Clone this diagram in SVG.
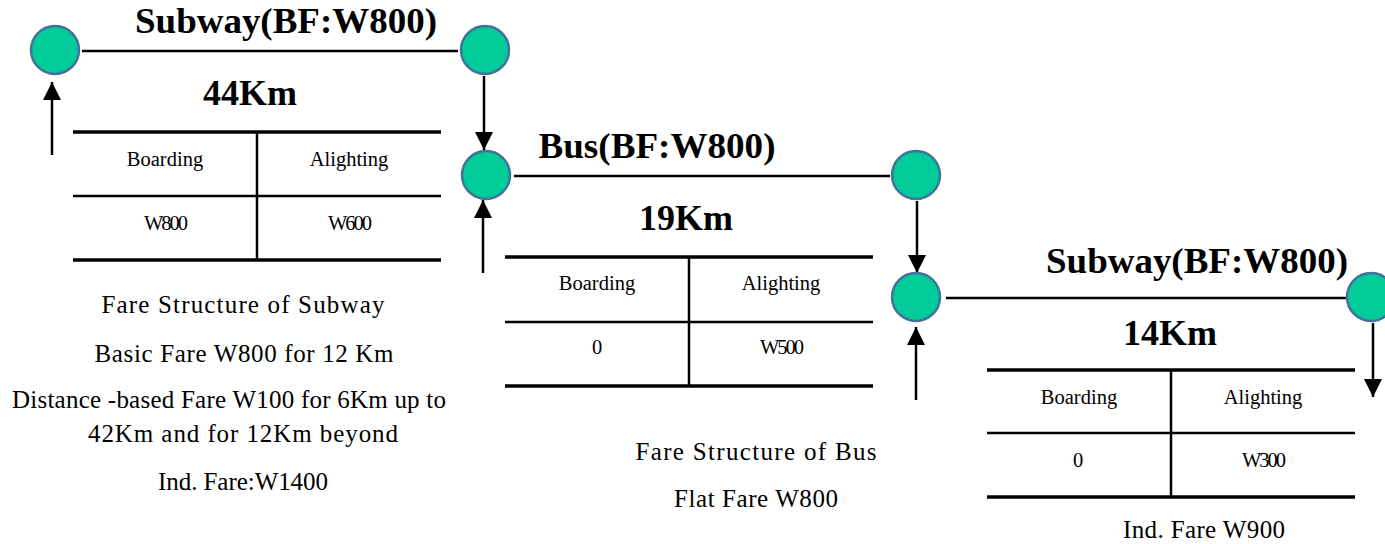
<svg xmlns="http://www.w3.org/2000/svg" width="1385" height="544" viewBox="0 0 1385 544">
<style>
.st{fill:#00CC99;stroke:#41719C;stroke-width:2.5}
.ln{stroke:#000;stroke-width:2.5;fill:none}
.thick{stroke:#000;stroke-width:3.5}
.mid{stroke:#000;stroke-width:2.5}
.title{font-family:"Liberation Serif",serif;font-weight:bold;font-size:36px;fill:#000;text-anchor:middle}
.cell{font-family:"Liberation Serif",serif;font-size:20.5px;fill:#000;text-anchor:middle}
.num{letter-spacing:-2px}
.desc{font-family:"Liberation Serif",serif;font-size:25px;fill:#000;text-anchor:middle}
</style>
<defs>
<marker id="ah" markerUnits="userSpaceOnUse" markerWidth="18" markerHeight="18" viewBox="0 0 16 16" refX="16" refY="8" orient="auto">
<path d="M0,0 L16,8 L0,16 Z" fill="#000"/>
</marker>
</defs>
<g id="connectors">
<line class="ln" x1="82" y1="51" x2="458" y2="51"/>
<line class="ln" x1="514" y1="176" x2="890" y2="176"/>
<line class="ln" x1="946" y1="298" x2="1348" y2="298"/>
<line class="ln" x1="52" y1="155" x2="52" y2="82" marker-end="url(#ah)"/>
<line class="ln" x1="484" y1="76" x2="484" y2="150" marker-end="url(#ah)"/>
<line class="ln" x1="483" y1="273" x2="483" y2="200" marker-end="url(#ah)"/>
<line class="ln" x1="917" y1="201" x2="917" y2="273" marker-end="url(#ah)"/>
<line class="ln" x1="916" y1="400" x2="916" y2="327" marker-end="url(#ah)"/>
<line class="ln" x1="1373" y1="323" x2="1373" y2="397" marker-end="url(#ah)"/>
</g>
<g id="stations">
<circle id="s1" class="st" cx="55" cy="50" r="24"/>
<circle id="s2" class="st" cx="485" cy="50" r="24"/>
<circle id="s3" class="st" cx="486" cy="175" r="24"/>
<circle id="s4" class="st" cx="916" cy="175" r="24"/>
<circle id="s5" class="st" cx="916" cy="297" r="24"/>
<circle id="s6" class="st" cx="1371" cy="297" r="24"/>
</g>
<g id="subway1">
<text class="title" x="286" y="33" textLength="302" lengthAdjust="spacingAndGlyphs">Subway(BF:W800)</text>
<text class="title" x="250" y="105">44Km</text>
<line class="thick" x1="73" y1="132" x2="441" y2="132"/>
<line class="mid" x1="73" y1="196" x2="441" y2="196"/>
<line class="thick" x1="73" y1="260" x2="441" y2="260"/>
<line class="mid" x1="257" y1="132" x2="257" y2="260"/>
<text class="cell" x="165" y="166">Boarding</text>
<text class="cell" x="349" y="166">Alighting</text>
<text class="cell num" x="165" y="230">W800</text>
<text class="cell num" x="349" y="230">W600</text>
<text class="desc" x="243" y="313" textLength="283">Fare Structure of Subway</text>
<text class="desc" x="244" y="362" textLength="299">Basic Fare W800 for 12 Km</text>
<text class="desc" x="229" y="408" textLength="434">Distance -based Fare W100 for 6Km up to</text>
<text class="desc" x="243" y="442" textLength="310">42Km and for 12Km beyond</text>
<text class="desc" x="243" y="490" textLength="170">Ind. Fare:W1400</text>
</g>
<g id="bus">
<text class="title" x="657" y="158" textLength="237" lengthAdjust="spacingAndGlyphs">Bus(BF:W800)</text>
<text class="title" x="686" y="230">19Km</text>
<line class="thick" x1="505" y1="257" x2="873" y2="257"/>
<line class="mid" x1="505" y1="322" x2="873" y2="322"/>
<line class="thick" x1="505" y1="386" x2="873" y2="386"/>
<line class="mid" x1="689" y1="257" x2="689" y2="386"/>
<text class="cell" x="597" y="290">Boarding</text>
<text class="cell" x="781" y="290">Alighting</text>
<text class="cell" x="597" y="354">0</text>
<text class="cell num" x="781" y="354">W500</text>
<text class="desc" x="756" y="460" textLength="241">Fare Structure of Bus</text>
<text class="desc" x="756" y="507" textLength="164">Flat Fare W800</text>
</g>
<g id="subway2">
<text class="title" x="1197" y="273" textLength="302" lengthAdjust="spacingAndGlyphs">Subway(BF:W800)</text>
<text class="title" x="1170" y="345">14Km</text>
<line class="thick" x1="987" y1="370" x2="1355" y2="370"/>
<line class="mid" x1="987" y1="433" x2="1355" y2="433"/>
<line class="thick" x1="987" y1="497" x2="1355" y2="497"/>
<line class="mid" x1="1171" y1="370" x2="1171" y2="497"/>
<text class="cell" x="1079" y="404">Boarding</text>
<text class="cell" x="1263" y="404">Alighting</text>
<text class="cell" x="1078" y="467">0</text>
<text class="cell num" x="1263" y="467">W300</text>
<text class="desc" x="1204" y="538" textLength="162">Ind. Fare W900</text>
</g>
</svg>
